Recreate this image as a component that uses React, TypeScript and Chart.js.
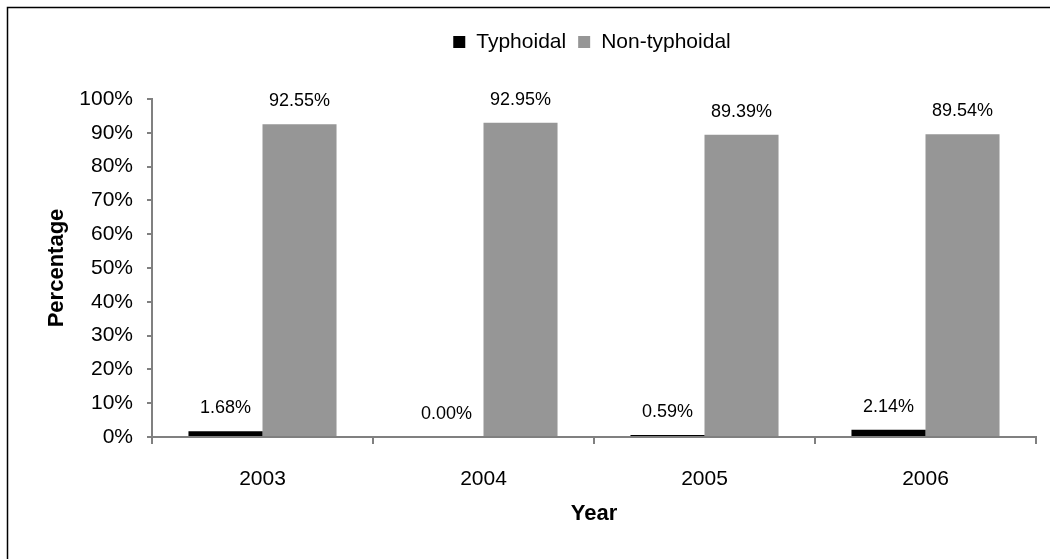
import React, { useEffect, useRef } from "react";
import { Chart, registerables } from "chart.js";

Chart.register(...registerables);

const years = ["2003", "2004", "2005", "2006"];
const typhoidal = [1.68, 0.0, 0.59, 2.14];
const nonTyphoidal = [92.55, 92.95, 89.39, 89.54];
const seriesNames = ["Typhoidal", "Non-typhoidal"];
const seriesColors = ["#000000", "#969696"];

const FONT = "'Liberation Sans', Arial, Helvetica, sans-serif";

const framePlugin = {
  id: "frame",
  beforeDraw(chart: any) {
    const ctx = chart.ctx;
    ctx.save();
    ctx.fillStyle = "#ffffff";
    ctx.fillRect(0, 0, chart.width, chart.height);
    ctx.strokeStyle = "#000000";
    ctx.lineWidth = 1.5;
    ctx.beginPath();
    ctx.moveTo(7.5, chart.height);
    ctx.lineTo(7.5, 7.5);
    ctx.lineTo(chart.width, 7.5);
    ctx.stroke();
    ctx.restore();
  },
};

const legendPlugin = {
  id: "customLegend",
  afterDraw(chart: any) {
    const ctx = chart.ctx;
    ctx.save();
    ctx.font = `21px ${FONT}`;
    const box = 12;
    const gapText = 11;
    const gapItem = 12;
    const widths = seriesNames.map((n) => box + gapText + ctx.measureText(n).width);
    const total = widths.reduce((a, b) => a + b, 0) + gapItem * (widths.length - 1);
    const cx = 592;
    let x = cx - total / 2;
    const y = 42;
    ctx.textBaseline = "middle";
    ctx.textAlign = "left";
    seriesNames.forEach((n, i) => {
      ctx.fillStyle = seriesColors[i];
      ctx.fillRect(x, y - box / 2, box, box);
      ctx.fillStyle = "#000000";
      ctx.fillText(n, x + box + gapText, y);
      x += widths[i] + gapItem;
    });
    ctx.restore();
  },
};

const labelPlugin = {
  id: "barLabels",
  afterDatasetsDraw(chart: any) {
    const ctx = chart.ctx;
    ctx.save();
    ctx.font = `18px ${FONT}`;
    ctx.fillStyle = "#000000";
    ctx.textAlign = "center";
    ctx.textBaseline = "middle";
    chart.data.datasets.forEach((ds: any, di: number) => {
      const meta = chart.getDatasetMeta(di);
      meta.data.forEach((bar: any, i: number) => {
        const v = ds.data[i] as number;
        ctx.fillText(v.toFixed(2) + "%", bar.x, bar.y - 23);
      });
    });
    ctx.restore();
  },
};

export default function App() {
  const ref = useRef<HTMLCanvasElement | null>(null);
  useEffect(() => {
    if (!ref.current) return;
    const chart = new Chart(ref.current, {
      type: "bar",
      data: {
        labels: years,
        datasets: [
          {
            label: seriesNames[0],
            data: typhoidal,
            backgroundColor: seriesColors[0],
            categoryPercentage: 0.67,
            barPercentage: 1,
          },
          {
            label: seriesNames[1],
            data: nonTyphoidal,
            backgroundColor: seriesColors[1],
            categoryPercentage: 0.67,
            barPercentage: 1,
          },
        ],
      },
      options: {
        responsive: false,
        animation: false,
        layout: { padding: { left: 34, right: 14, top: 99, bottom: 32 } },
        plugins: {
          legend: { display: false },
          tooltip: { enabled: false },
        },
        scales: {
          x: {
            afterFit(scale: any) {
              scale.height = 90;
            },
            border: { display: true, color: "#808080", width: 2 },
            grid: {
              offset: true,
              drawOnChartArea: false,
              drawTicks: true,
              tickLength: 7,
              color: "#808080",
              lineWidth: 2,
            },
            ticks: {
              color: "#000000",
              padding: 23,
              font: { family: FONT, size: 21 },
            },
            title: {
              display: true,
              text: "Year",
              color: "#000000",
              font: { family: FONT, size: 22, weight: "bold" },
              padding: 0,
            },
          },
          y: {
            min: 0,
            max: 100,
            afterFit(scale: any) {
              scale.width = 118;
            },
            border: { display: true, color: "#808080", width: 2 },
            grid: {
              drawOnChartArea: false,
              drawTicks: true,
              tickLength: 5,
              color: "#808080",
              lineWidth: 2,
            },
            ticks: {
              stepSize: 10,
              color: "#000000",
              padding: 14,
              font: { family: FONT, size: 21 },
              callback: (v: any) => v + "%",
            },
            title: {
              display: true,
              text: "Percentage",
              color: "#000000",
              font: { family: FONT, size: 22, weight: "bold" },
              padding: 10,
            },
          },
        },
      },
      plugins: [framePlugin, legendPlugin, labelPlugin],
    });
    return () => chart.destroy();
  }, []);
  return (
    <div style={{ position: "absolute", left: 0, top: 0, width: 1050, height: 559 }}>
      <canvas ref={ref} width={1050} height={559} style={{ display: "block" }} />
    </div>
  );
}
